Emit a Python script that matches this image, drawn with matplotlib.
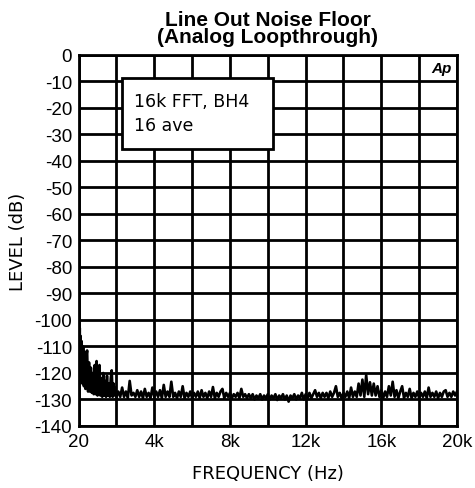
import numpy as np
import matplotlib.pyplot as plt
from matplotlib.patches import Rectangle

# low end of the spectrum, read point by point (Hz, dB)
low_freq = [20, 40, 60, 80, 100, 130, 160, 200, 240, 280, 320, 360, 400, 450, 500,
            550, 600, 650, 700, 750, 800, 850, 900, 950, 1000, 1050, 1100, 1150, 1200,
            1250, 1300, 1350, 1400, 1450, 1500, 1550, 1600, 1650, 1700, 1750, 1800,
            1850, 1900, 1950, 2000]
low_level = [-100, -118, -103, -121, -106, -123, -108, -124, -110, -125, -112, -126, -114,
             -111.5, -127, -116, -127, -118, -127.5, -120, -128, -117, -128, -115.5, -128.5,
             -121, -117, -128.5, -122, -129, -120, -128.5, -123, -129, -121, -128.5, -124,
             -129, -122, -119, -129, -124, -128.5, -125.5, -129]

# 2.1 kHz .. 20 kHz, every 100 Hz
high_freq = np.arange(2100, 20001, 100)
high_level = [
    -127, -129, -125.5, -129, -127, -129.5, -123, -128.5, -127.5, -129,
    -126.5, -129, -127, -129.5, -126, -129, -127.5, -129.5, -125.5, -129,
    -127, -129, -126.5, -129.5, -124.5, -129, -127, -129, -123.3, -129,
    -127.5, -129.5, -127, -129, -125, -129.5, -127.5, -129, -127, -129.5,
    -127.5, -129, -127, -129.5, -126.5, -129, -127.5, -129.5, -127, -129,
    -125.3, -129.5, -127.5, -129, -127, -126, -129.5, -127.5, -129, -127.5,
    -129.5, -128, -129, -127.5, -129.5, -126, -129, -128, -129.5, -128,
    -129.5, -128, -130, -128.5, -129.5, -128, -130, -128.5, -129.5, -128,
    -130, -128.5, -129.5, -128, -130.2, -128.5, -129.5, -128, -130, -128.5,
    -130.8, -128.5, -129.5, -128, -130, -128.5, -129.5, -127.5, -130, -128,
    -129.5, -127.5, -129.5, -128, -126.5, -129, -127.5, -129.5, -127.5, -129,
    -127.5, -129.5, -127, -129, -127.5, -125, -129, -127.5, -129.5, -127.5,
    -129, -127, -129.5, -125.5, -129, -127, -129, -124, -128.5, -122.5,
    -129, -120.8, -128, -123.5, -128.5, -124, -128.5, -125, -129, -126.5,
    -129.5, -127, -129, -125, -128.5, -123.3, -129, -126.5, -129.5, -127,
    -125, -129.5, -127.5, -129, -126, -129.5, -127.5, -129, -127, -129.5,
    -127.5, -129, -127, -129.5, -125.5, -129, -127.5, -129, -127, -129.5,
    -127.5, -129, -127, -126.5, -129, -127.5, -129, -127, -128.5, -127,
]

freq = np.concatenate([low_freq, high_freq])
level = np.concatenate([low_level, high_level])

x_ticks = [20, 4000, 8000, 12000, 16000, 20000]
x_tick_labels = ['20', '4k', '8k', '12k', '16k', '20k']
x_grid = [20, 2000, 4000, 6000, 8000, 10000, 12000, 14000, 16000, 18000, 20000]
y_ticks = list(range(-140, 1, 10))

fig = plt.figure(figsize=(4.75, 4.89), dpi=100)
ax = fig.add_axes([0.1663, 0.1268, 0.7958, 0.7587])

for gx in x_grid:
    ax.axvline(gx, color='black', lw=2, zorder=1)
for gy in y_ticks:
    ax.axhline(gy, color='black', lw=2, zorder=1)

ax.plot(freq, level, color='black', lw=1.9, zorder=3)

ax.set_xlim(20, 20000)
ax.set_ylim(-140, 0)
ax.set_xticks(x_ticks)
ax.set_xticklabels(x_tick_labels, fontfamily='Liberation Sans', fontsize=13.5)
ax.set_yticks(y_ticks)
ax.set_yticklabels([str(v) for v in y_ticks], fontfamily='Liberation Sans', fontsize=13.5)
ax.tick_params(length=0, pad=5)
for s in ax.spines.values():
    s.set_linewidth(2)

ax.set_xlabel('FREQUENCY (Hz)', fontfamily='DejaVu Sans', fontsize=13, labelpad=10)
ax.set_ylabel('LEVEL (dB)', fontfamily='DejaVu Sans', fontsize=13, labelpad=5)
ax.set_title('Line Out Noise Floor\n(Analog Loopthrough)', fontfamily='Liberation Sans',
             fontweight='bold', fontsize=15, linespacing=0.88, pad=9)

# annotation box
ax.add_patch(Rectangle((2290, -35.5), 8000, 26.8, facecolor='white', edgecolor='black',
                       lw=2, zorder=4))
ax.text(2950, -22, '16k FFT, BH4\n16 ave', fontfamily='DejaVu Sans', fontsize=12.5,
        va='center', ha='left', linespacing=1.4, zorder=5)

ax.text(19700, -5, 'Ap', fontfamily='Liberation Sans', fontweight='bold', style='italic',
        fontsize=11, ha='right', va='center', zorder=5)

fig.savefig('out.png', dpi=100)
